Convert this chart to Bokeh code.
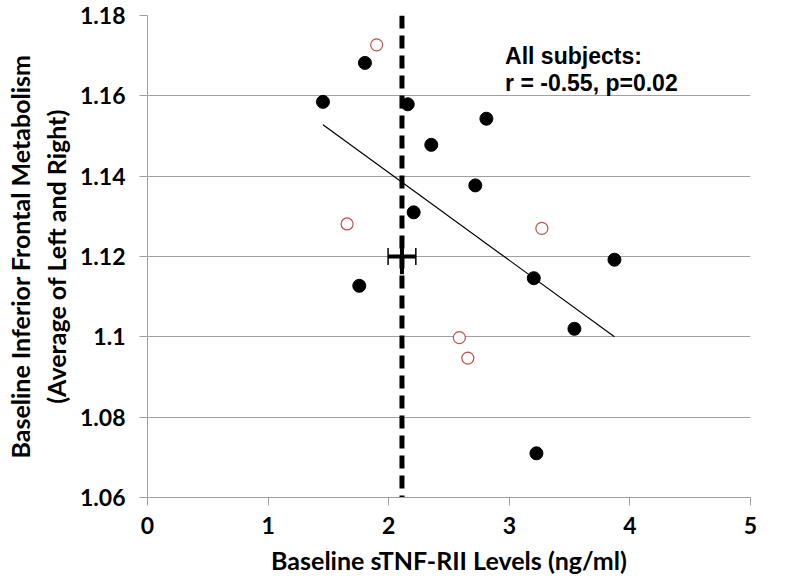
from bokeh.plotting import figure
from bokeh.models import FixedTicker, Label, Range1d
from bokeh.embed import file_html
from bokeh.resources import INLINE

# --- data ---
filled_x = [1.455, 1.803, 2.158, 2.810, 2.353, 2.718, 2.207, 3.872, 3.203, 1.756, 3.540, 3.225]
filled_y = [1.1585, 1.1682, 1.1579, 1.1543, 1.1478, 1.1377, 1.1310, 1.1192, 1.1146, 1.1127, 1.1020, 1.0710]
open_x = [1.900, 1.655, 3.270, 2.586, 2.656]
open_y = [1.1727, 1.1281, 1.1270, 1.0998, 1.0947]
trend_x = [1.455, 3.872]
trend_y = [1.1528, 1.1000]
cutoff_x = 2.11
mean_x = 2.11
mean_y = 1.12
mean_xerr = 0.115
mean_yerr = 0.0044
x_ticks = [0, 1, 2, 3, 4, 5]
y_ticks = [1.06, 1.08, 1.10, 1.12, 1.14, 1.16, 1.18]
y_tick_labels = ["1.06", "1.08", "1.1", "1.12", "1.14", "1.16", "1.18"]
x_title = "Baseline sTNF-RII Levels (ng/ml)"
y_title = "Baseline Inferior Frontal Metabolism\n(Average of Left and Right)"
note_lines = ["All subjects:", "r = -0.55, p=0.02"]

GRAY = "#a0a0a0"
AXFONT = "Lato"

p = figure(frame_width=603, frame_height=482,
           x_range=Range1d(0, 5), y_range=Range1d(y_ticks[0], y_ticks[-1]),
           output_backend="svg", toolbar_location=None,
           min_border_left=147, min_border_right=45, min_border_top=15, min_border_bottom=75)
p.outline_line_color = None
p.background_fill_color = "white"
p.border_fill_color = "white"

p.xgrid.visible = False
p.ygrid.grid_line_color = GRAY
p.ygrid.grid_line_width = 1

p.xaxis.ticker = FixedTicker(ticks=x_ticks)
p.yaxis.ticker = FixedTicker(ticks=y_ticks)
p.yaxis.major_label_overrides = {t: l for t, l in zip(y_ticks, y_tick_labels)}

for ax in (p.xaxis, p.yaxis):
    ax.axis_line_color = GRAY
    ax.major_tick_line_color = GRAY
    ax.major_tick_in = 0
    ax.major_tick_out = 8
    ax.minor_tick_line_color = None
    ax.major_label_text_font = AXFONT
    ax.major_label_text_font_style = "bold"
    ax.major_label_text_font_size = "23px"
    ax.major_label_text_color = "black"
    ax.axis_label_text_font = AXFONT
    ax.axis_label_text_font_style = "bold"
    ax.axis_label_text_font_size = "25px"
    ax.axis_label_text_color = "black"

p.xaxis.major_label_standoff = 11
p.xaxis.axis_label_standoff = 8
p.yaxis.major_label_standoff = 14
p.yaxis.axis_label_standoff = 6
p.xaxis.axis_label = x_title
p.yaxis.axis_label = y_title

# cutoff dashed line
p.segment(x0=cutoff_x, y0=y_ticks[-1], x1=cutoff_x, y1=y_ticks[0],
          line_color="black", line_width=5, line_dash="13 7")

# trend line
p.line(trend_x, trend_y, line_color="black", line_width=1.2)

# mean with error bars
p.segment(x0=mean_x - mean_xerr, y0=mean_y, x1=mean_x + mean_xerr, y1=mean_y,
          line_color="black", line_width=4)
p.segment(x0=mean_x, y0=mean_y - mean_yerr, x1=mean_x, y1=mean_y + mean_yerr,
          line_color="black", line_width=4)
p.scatter([mean_x - mean_xerr, mean_x + mean_xerr], [mean_y, mean_y], marker="dash",
          angle=1.5708, size=17, line_color="black", line_width=1.5)

# points
p.scatter(filled_x, filled_y, marker="circle", size=13, fill_color="black", line_color="black")
p.scatter(open_x, open_y, marker="circle", size=12, fill_color="white",
          line_color="#c0504d", line_width=1.2)

# annotation
for i, t in enumerate(note_lines):
    p.add_layout(Label(x=2.965, y=1.1700 - i * 0.0069, text=t,
                       text_font="Liberation Sans", text_font_style="bold",
                       text_font_size="23px", text_color="black",
                       text_baseline="alphabetic"))

open("out.html", "w").write(file_html(p, INLINE))
